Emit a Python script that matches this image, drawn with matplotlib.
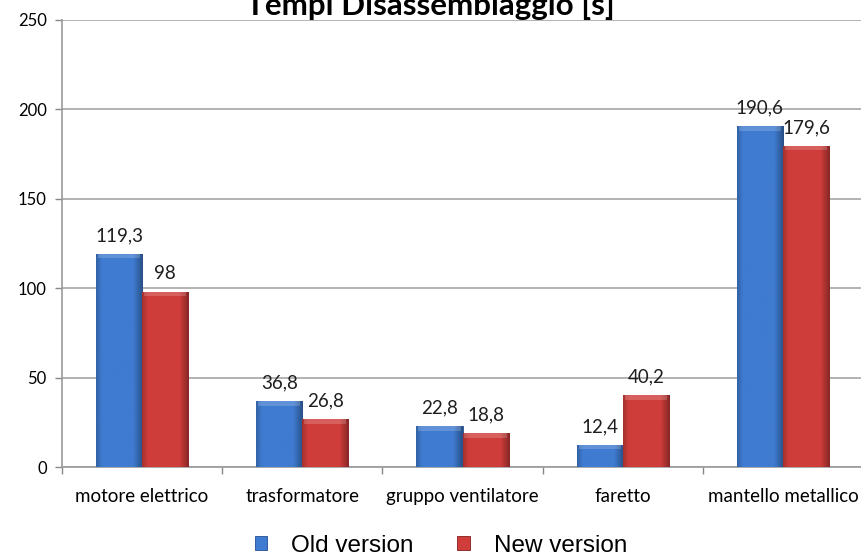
import numpy as np
import matplotlib
matplotlib.use("Agg")
import matplotlib.pyplot as plt
from matplotlib.colors import to_rgb

categories = ["motore elettrico", "trasformatore", "gruppo ventilatore", "faretto", "mantello metallico"]
old_version = [119.3, 36.8, 22.8, 12.4, 190.6]
new_version = [98, 26.8, 18.8, 40.2, 179.6]
series_names = ["Old version", "New version"]
yticks = [0, 50, 100, 150, 200, 250]
title = "Tempi Disassemblaggio [s]"

label_font = ["Lato", "DejaVu Sans"]
legend_font = ["Liberation Sans", "DejaVu Sans"]

fig = plt.figure(figsize=(8.61, 5.59), dpi=100)
ax = fig.add_axes([62 / 861, 92 / 559, 801 / 861, 447 / 559])

x = np.arange(len(categories))
w = 0.2875
colors = ["#3f7bd0", "#cf3d3a"]
dark = ["#244f92", "#861c1c"]


def shaded(base, n=64):
    """Horizontal bevel shading for a bar face."""
    c = np.array(to_rgb(base))
    t = np.linspace(0, 1, n)
    f = np.ones(n)
    f[t < 0.12] = 0.80 + 0.2 * t[t < 0.12] / 0.12
    f[t > 0.80] = 1.0 - 0.35 * (t[t > 0.80] - 0.80) / 0.20
    img = np.clip(c[None, :] * f[:, None], 0, 1)
    return img[None, :, :]


for i, (vals, col, dk, off) in enumerate(zip([old_version, new_version], colors, dark, [-w / 2, w / 2])):
    bars = ax.bar(x + off, vals, width=w, color=col, edgecolor=dk, linewidth=0.6, zorder=3,
                  label=series_names[i])
    for b, v in zip(bars, vals):
        x0, x1 = b.get_x(), b.get_x() + b.get_width()
        im = ax.imshow(shaded(col), extent=[x0, x1, 0, v], aspect="auto", zorder=3.5,
                       interpolation="bilinear")
        im.set_clip_path(b)
        # lighter top bevel
        top = min(2.5, v * 0.2)
        ax.fill_between([x0 + 0.012, x1 - 0.012], v - top, v, color="white", alpha=0.18,
                        zorder=3.6, linewidth=0)
        ax.annotate(f"{v:g}".replace(".", ","), (b.get_x() + b.get_width() / 2, v),
                    xytext=(0, 7), textcoords="offset points", ha="center", va="bottom",
                    fontsize=13.5, family=label_font, color="#1e1e1e", zorder=5)

ax.set_xlim(-0.5, len(categories) - 0.5)
ax.set_ylim(0, 250)
ax.set_yticks(yticks)
ax.set_yticklabels([str(t) for t in yticks], family=label_font, fontsize=12)
ax.set_xticks(x)
ax.set_xticklabels(categories, family=label_font, fontsize=13.5)
ax.set_xticks(np.arange(len(categories) + 1) - 0.5, minor=True)
ax.tick_params(axis="x", which="major", length=0, pad=15)
ax.tick_params(axis="x", which="minor", length=5, color="#888888", width=1)
ax.tick_params(axis="y", length=5, color="#888888", width=1, pad=6)
ax.grid(axis="y", color="#a6a6a6", linewidth=1.2, zorder=0)
for s in ["top", "right"]:
    ax.spines[s].set_visible(False)
ax.spines["left"].set_color("#999999")
ax.spines["bottom"].set_color("#999999")
ax.spines["left"].set_linewidth(1.2)
ax.spines["bottom"].set_linewidth(1.2)

fig.text(0.5, 544 / 559, title, ha="center", va="baseline", fontsize=22.5, fontweight="bold",
         family=label_font)

leg = fig.legend(loc="center", bbox_to_anchor=(441 / 861, 13 / 559), ncol=2, frameon=False,
                 prop={"family": legend_font, "size": 17.5}, handlelength=0.5, handleheight=0.5,
                 columnspacing=1.8, handletextpad=1.0)

fig.savefig("out.png", dpi=100)
